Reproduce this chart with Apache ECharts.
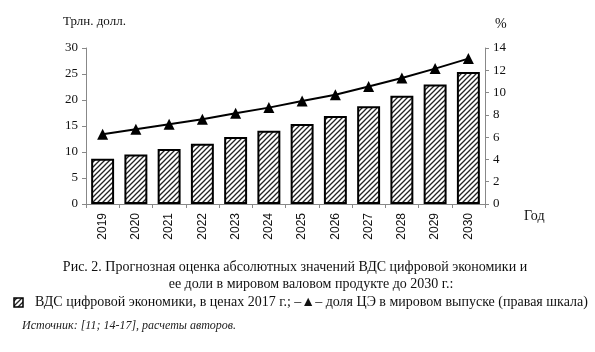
<!DOCTYPE html>
<html><head><meta charset="utf-8">
<script src="https://cdn.jsdelivr.net/npm/echarts@6/dist/echarts.min.js"></script>
<style>html,body{margin:0;padding:0;background:#fff}#c{width:595px;height:352px}</style>
</head><body><div id="c"></div>
<script>
const years = ['2019','2020','2021','2022','2023','2024','2025','2026','2027','2028','2029','2030'];
const gvaValues = [8.7, 9.5, 10.6, 11.6, 12.9, 14.1, 15.4, 16.9, 18.8, 20.8, 23.0, 25.4];
const shareValues = [6.25, 6.7, 7.15, 7.6, 8.15, 8.65, 9.25, 9.8, 10.55, 11.3, 12.15, 13.05];
const leftTicks = {min: 0, max: 30, interval: 5};
const rightTicks = {min: 0, max: 14, interval: 2};

function hatch() {
  const s = 5, c = document.createElement('canvas');
  c.width = s; c.height = s;
  const g = c.getContext('2d');
  g.fillStyle = '#fff'; g.fillRect(0, 0, s, s);
  g.strokeStyle = '#222'; g.lineWidth = 1.3;
  g.beginPath();
  g.moveTo(0, s); g.lineTo(s, 0);
  g.moveTo(-1, 1); g.lineTo(1, -1);
  g.moveTo(s - 1, s + 1); g.lineTo(s + 1, s - 1);
  g.stroke();
  return c;
}
const pat = {image: hatch(), repeat: 'repeat'};
const serif = '"Liberation Serif","Times New Roman",serif';
const sans = '"Liberation Sans",Arial,sans-serif';
const chart = echarts.init(document.getElementById('c'));
chart.setOption({
  animation: false,
  backgroundColor: '#fff',
  textStyle: {fontFamily: serif},
  grid: {left: 86, right: 110, top: 48, bottom: 148},
  xAxis: {
    type: 'category', data: years,
    axisLine: {lineStyle: {color: '#888'}},
    axisTick: {show: true, alignWithLabel: false, length: 4, lineStyle: {color: '#888'}},
    axisLabel: {rotate: 90, color: '#111', fontSize: 12, fontFamily: sans, margin: 9}
  },
  yAxis: [
    {type: 'value', min: leftTicks.min, max: leftTicks.max, interval: leftTicks.interval,
     splitLine: {show: false},
     axisLine: {show: true, lineStyle: {color: '#888'}},
     axisTick: {show: true, length: 4, lineStyle: {color: '#888'}},
     axisLabel: {color: '#111', fontSize: 13, fontFamily: serif, margin: 8}},
    {type: 'value', min: rightTicks.min, max: rightTicks.max, interval: rightTicks.interval,
     position: 'right', splitLine: {show: false},
     axisLine: {show: true, lineStyle: {color: '#888'}},
     axisTick: {show: true, length: 4, lineStyle: {color: '#888'}},
     axisLabel: {color: '#111', fontSize: 13, fontFamily: serif, margin: 8}}
  ],
  series: [
    {type: 'bar', name: 'ВДС цифровой экономики, в ценах 2017 г.', data: gvaValues, yAxisIndex: 0,
     barWidth: '69%',
     itemStyle: {color: pat, borderColor: '#000', borderWidth: 2}},
    {type: 'line', name: 'доля ЦЭ в мировом выпуске (правая шкала)', data: shareValues, yAxisIndex: 1,
     symbol: 'triangle', symbolSize: 11,
     lineStyle: {color: '#000', width: 2},
     itemStyle: {color: '#000'}}
  ],
  graphic: [
    {type: 'text', left: 63, top: 15, style: {text: 'Трлн. долл.', font: '13px ' + serif, fill: '#111'}},
    {type: 'text', left: 495, top: 17, style: {text: '%', font: '14px ' + serif, fill: '#111'}},
    {type: 'text', left: 524, top: 209, style: {text: 'Год', font: '14px ' + serif, fill: '#111'}},
    {type: 'text', x: 295, y: 260, style: {text: 'Рис. 2. Прогнозная оценка абсолютных значений ВДС цифровой экономики и', font: '14px ' + serif, fill: '#111', align: 'center'}},
    {type: 'text', x: 311, y: 277, style: {text: 'ее доли в мировом валовом продукте до 2030 г.:', font: '14px ' + serif, fill: '#111', align: 'center'}},
    {type: 'rect', shape: {x: 14, y: 298, width: 9, height: 9}, style: {fill: pat, stroke: '#000', lineWidth: 1.5}},
    {type: 'text', x: 35, y: 295, style: {text: 'ВДС цифровой экономики, в ценах 2017 г.; –▲– доля ЦЭ в мировом выпуске (правая шкала)', font: '14px ' + serif, fill: '#111'}},
    {type: 'text', x: 22, y: 320, style: {text: 'Источник: [11; 14-17], расчеты авторов.', font: 'italic 12px ' + serif, fill: '#222'}}
  ]
});
</script></body></html>
